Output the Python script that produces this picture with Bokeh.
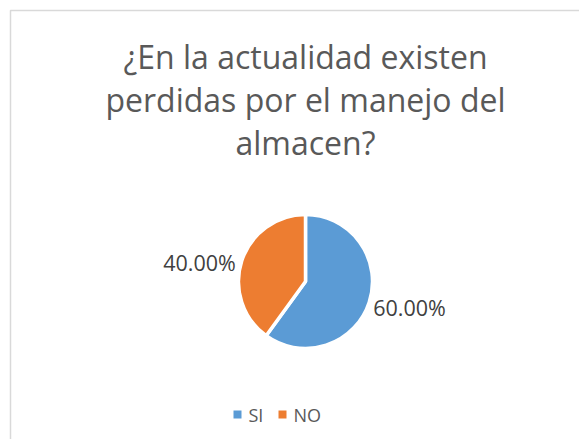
from bokeh.plotting import figure
from bokeh.models import Range1d
from bokeh.core.properties import value
from bokeh.embed import file_html
from bokeh.resources import INLINE
import math

title_lines = ["¿En la actualidad existen", "perdidas por el manejo del", "almacen?"]
categories = ["SI", "NO"]
shares = [0.60, 0.40]
labels = ["60.00%", "40.00%"]
colors = ["#5B9BD5", "#ED7D31"]

W, H = 579, 439
p = figure(width=W, height=H, output_backend="svg", toolbar_location=None,
           x_range=Range1d(0, W), y_range=Range1d(0, H), min_border=0)
p.axis.visible = False
p.grid.visible = False
p.outline_line_color = None
p.background_fill_color = "white"

def Y(sy):
    return H - sy

FONT = value("Open Sans")
# border
p.line([10, 10, 600], [Y(460), Y(10), Y(10)], line_color="#d9d9d9", line_width=1.5)

# title
for i, t in enumerate(title_lines):
    p.text([305], [Y(56 + 43 * i)], text=[t], text_align="center", text_baseline="middle",
           text_font=FONT, text_font_size="32px", text_color="#595959")

# pie
cx, cy, r = 305, Y(281), 67
start = math.pi / 2
for cat, s, col in zip(categories, shares, colors):
    end = start - 2 * math.pi * s
    p.wedge(x=cx, y=cy, radius=r, start_angle=end, end_angle=start,
            fill_color=col, line_color="white", line_width=3.5)
    start = end

# data labels
p.text([409], [Y(307)], text=[labels[0]], text_align="center", text_baseline="middle",
       text_font=FONT, text_font_size="21.5px", text_color="#404040")
p.text([199], [Y(262)], text=[labels[1]], text_align="center", text_baseline="middle",
       text_font=FONT, text_font_size="21.5px", text_color="#404040")

# legend
lx = [237, 282]
for i, (cat, col) in enumerate(zip(categories, colors)):
    p.rect([lx[i]], [Y(414)], width=8, height=8, fill_color=col, line_color=None)
    p.text([lx[i] + 11], [Y(414)], text=[cat], text_align="left", text_baseline="middle",
           text_font=FONT, text_font_size="18px", text_color="#595959")

open("out.html", "w").write(file_html(p, INLINE))
